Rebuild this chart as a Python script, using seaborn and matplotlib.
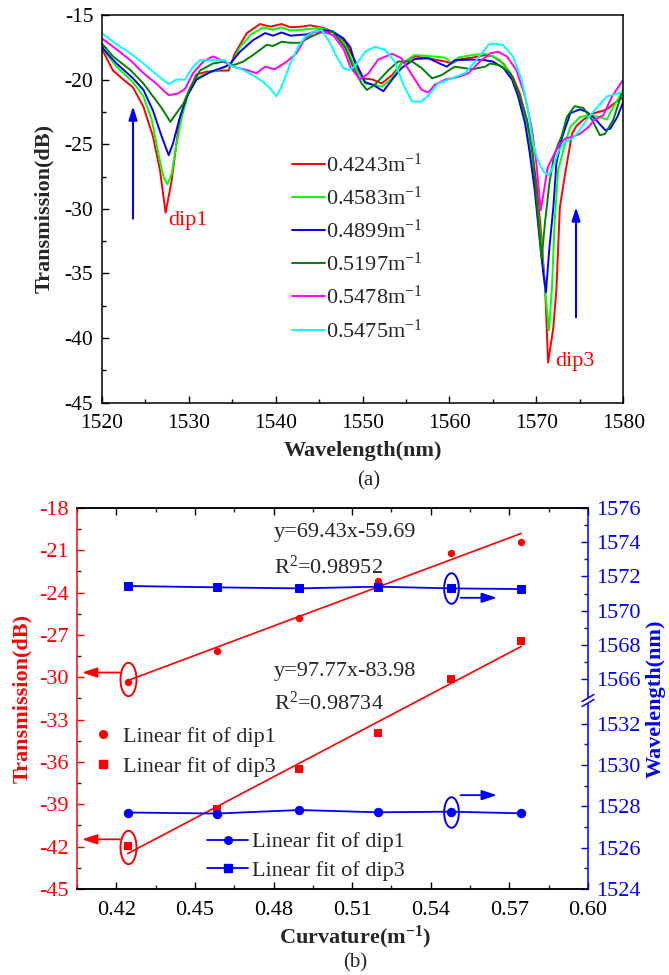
import numpy as np
import pandas as pd
import matplotlib
matplotlib.use("Agg")
import matplotlib.pyplot as plt
import seaborn as sns
from matplotlib.lines import Line2D
from matplotlib.path import Path
from matplotlib.patches import Rectangle
from matplotlib.ticker import MultipleLocator, FixedLocator, FormatStrFormatter

# ---------------- data: transmission spectra (wavelength nm, transmission dB) ----------------
curv_labels = ["0.4243m$^{-1}$", "0.4583m$^{-1}$", "0.4899m$^{-1}$",
               "0.5197m$^{-1}$", "0.5478m$^{-1}$", "0.5475m$^{-1}$"]
curve_colors = ["#FF0000", "#00FF00", "#0000FF", "#008000", "#FF00FF", "#00FFFF"]

spec_04243 = [(1520.0, -17.6), (1521.3, -19.3), (1522.5, -20.0), (1523.6, -20.6), (1524.8, -22.1),
              (1525.9, -24.4), (1526.7, -27.0), (1527.35, -30.3), (1528.05, -27.8), (1528.8, -23.9),
              (1529.8, -21.3), (1530.9, -19.6), (1532.0, -19.4), (1533.6, -19.3), (1534.6, -19.3),
              (1535.3, -18.0), (1536.7, -16.4), (1538.2, -15.7), (1539.4, -15.9), (1540.7, -15.7),
              (1541.7, -15.95), (1543.0, -15.9), (1544.0, -15.8), (1545.5, -16.0), (1546.6, -16.3),
              (1548.0, -17.1), (1549.1, -18.5), (1550.1, -19.9), (1551.2, -20.0), (1552.2, -20.3),
              (1553.4, -19.65), (1554.5, -18.75), (1556.0, -18.2), (1557.0, -18.3), (1558.0, -18.4),
              (1558.7, -18.5), (1559.5, -18.6), (1560.3, -18.75), (1561.0, -18.45), (1562.6, -18.3),
              (1564.1, -18.1), (1565.0, -18.2), (1566.2, -18.75), (1567.3, -19.8), (1568.1, -21.1),
              (1568.9, -23.1), (1569.5, -25.5), (1570.0, -28.0), (1570.5, -31.5), (1571.0, -36.0),
              (1571.35, -41.9), (1571.95, -39.2), (1572.3, -36.3), (1572.7, -29.9), (1573.3, -27.3),
              (1574.1, -24.2), (1574.6, -23.6), (1575.4, -23.1), (1576.6, -22.6), (1577.7, -22.4),
              (1578.3, -22.2), (1579.2, -21.7), (1580.0, -21.4)]

spec_04583 = [(1520.0, -17.5), (1521.7, -19.0), (1523.6, -20.2), (1524.8, -21.3), (1525.75, -23.1),
              (1526.5, -25.7), (1527.1, -27.5), (1527.55, -28.1), (1528.05, -27.3), (1528.55, -25.2),
              (1529.2, -22.9), (1529.96, -21.1), (1530.9, -19.9), (1532.1, -19.5), (1533.2, -19.3),
              (1534.2, -19.0), (1534.8, -18.9), (1535.9, -17.5), (1537.1, -16.55), (1538.6, -15.95),
              (1539.7, -16.15), (1540.7, -15.95), (1541.7, -16.2), (1543.6, -16.1), (1545.1, -16.0),
              (1546.6, -16.3), (1548.0, -17.3), (1549.1, -19.0), (1550.3, -20.3), (1551.4, -20.4),
              (1552.2, -20.55), (1553.4, -19.9), (1554.5, -18.75), (1556.0, -18.1), (1558.0, -18.2),
              (1559.5, -18.3), (1560.3, -18.75), (1561.0, -18.3), (1562.6, -18.1), (1564.1, -18.0),
              (1565.0, -18.2), (1565.8, -18.5), (1567.0, -19.5), (1567.7, -20.8), (1568.7, -23.1),
              (1569.3, -25.5), (1570.0, -29.0), (1570.6, -33.0), (1571.1, -37.0), (1571.45, -39.4),
              (1571.8, -36.0), (1572.1, -31.0), (1572.5, -27.0), (1573.3, -24.95), (1573.9, -23.66),
              (1575.0, -22.9), (1576.2, -22.75), (1577.3, -22.9), (1578.1, -23.1), (1578.85, -22.1),
              (1580.0, -20.8)]

spec_04899 = [(1520.0, -17.5), (1521.7, -18.75), (1523.6, -19.9), (1524.8, -20.8), (1525.9, -22.4),
              (1526.9, -24.4), (1527.7, -25.85), (1528.2, -24.95), (1529.0, -22.9), (1529.8, -21.3),
              (1530.9, -20.0), (1532.5, -19.4), (1534.2, -19.0), (1534.8, -18.75), (1535.9, -17.85),
              (1537.4, -16.95), (1538.8, -16.4), (1539.7, -16.6), (1540.7, -16.35), (1541.7, -16.6),
              (1543.6, -16.5), (1545.1, -16.15), (1546.5, -16.25), (1547.8, -16.8), (1548.6, -17.5),
              (1549.1, -18.6), (1550.3, -20.2), (1551.2, -20.4), (1552.4, -20.9), (1553.4, -20.0),
              (1554.5, -19.1), (1556.0, -18.4), (1557.6, -18.35), (1558.7, -18.7), (1559.7, -19.0),
              (1560.6, -18.5), (1562.6, -18.45), (1564.1, -18.5), (1565.0, -18.6), (1566.2, -19.1),
              (1567.2, -20.0), (1567.9, -21.3), (1568.7, -23.4), (1569.2, -25.5), (1569.8, -28.5),
              (1570.4, -32.5), (1570.8, -35.0), (1571.1, -36.45), (1571.5, -33.0), (1571.95, -29.9),
              (1572.3, -26.5), (1572.9, -24.6), (1573.9, -22.6), (1575.0, -22.3), (1575.8, -22.5),
              (1576.7, -23.0), (1577.9, -23.9), (1578.5, -23.8), (1579.3, -22.9), (1580.0, -21.7)]

spec_05197 = [(1520.0, -17.2), (1521.3, -18.2), (1523.3, -19.26), (1524.8, -20.3), (1525.9, -21.3),
              (1526.9, -22.2), (1527.9, -23.27), (1528.6, -22.6), (1529.4, -21.85), (1530.2, -20.6),
              (1531.3, -19.3), (1532.8, -18.75), (1534.2, -18.6), (1535.1, -18.9), (1536.3, -18.6),
              (1537.4, -18.1), (1539.0, -17.3), (1539.7, -17.4), (1540.7, -17.07), (1541.7, -17.15),
              (1542.8, -17.15), (1544.0, -16.7), (1545.1, -16.37), (1546.6, -16.3), (1548.0, -17.5),
              (1548.9, -19.0), (1549.9, -20.3), (1550.5, -20.8), (1551.4, -20.4), (1553.0, -19.26),
              (1554.1, -18.6), (1555.7, -18.6), (1556.8, -19.1), (1558.0, -19.9), (1559.1, -19.65),
              (1560.6, -19.0), (1562.6, -19.2), (1564.1, -19.0), (1564.7, -18.75), (1565.8, -18.9),
              (1567.0, -19.5), (1567.9, -20.95), (1568.9, -23.1), (1569.5, -25.2), (1570.0, -29.0),
              (1570.6, -33.86), (1571.0, -31.0), (1571.5, -28.0), (1572.0, -26.0), (1572.5, -25.0),
              (1572.9, -24.4), (1573.5, -22.9), (1574.4, -22.05), (1575.4, -22.2), (1576.4, -23.1),
              (1577.3, -24.3), (1577.9, -24.2), (1578.85, -23.1), (1580.0, -20.7)]

spec_05478 = [(1520.0, -16.8), (1521.3, -17.45), (1523.3, -18.5), (1524.8, -19.5), (1526.1, -20.2),
              (1527.7, -21.2), (1528.8, -21.07), (1529.6, -20.7), (1530.5, -19.5), (1531.7, -18.6),
              (1532.8, -18.2), (1533.6, -18.45), (1535.1, -19.0), (1536.7, -19.26), (1537.8, -19.5),
              (1538.8, -19.0), (1539.9, -19.2), (1541.3, -18.6), (1542.4, -17.97), (1543.4, -16.8),
              (1544.5, -16.3), (1545.5, -16.3), (1546.6, -16.55), (1547.8, -17.6), (1548.6, -19.0),
              (1549.7, -20.0), (1550.7, -19.5), (1551.8, -18.45), (1553.4, -18.0), (1554.5, -18.36),
              (1555.7, -19.65), (1556.8, -20.8), (1557.6, -21.0), (1558.3, -20.4), (1559.5, -20.0),
              (1561.0, -19.8), (1562.2, -19.5), (1563.5, -18.6), (1564.7, -17.97), (1565.6, -17.84),
              (1566.6, -18.2), (1567.7, -19.26), (1568.7, -21.3), (1569.5, -23.9), (1570.0, -26.5),
              (1570.5, -30.1), (1570.9, -28.5), (1571.3, -26.8), (1572.1, -25.7), (1572.5, -25.2),
              (1573.3, -24.56), (1574.25, -24.4), (1575.0, -24.2), (1576.0, -23.66), (1576.7, -23.1),
              (1577.7, -22.75), (1578.7, -21.3), (1580.0, -20.0)]

spec_05475 = [(1520.0, -16.4), (1521.3, -17.07), (1523.3, -17.97), (1524.8, -18.75), (1526.1, -19.5),
              (1527.7, -20.35), (1528.6, -20.0), (1529.6, -20.0), (1530.5, -19.0), (1531.3, -18.5),
              (1532.8, -18.5), (1534.2, -18.5), (1534.8, -18.9), (1536.3, -19.26), (1537.4, -19.65),
              (1538.6, -20.2), (1539.4, -20.7), (1540.1, -21.3), (1540.7, -20.55), (1541.7, -18.75),
              (1542.6, -17.46), (1543.4, -16.7), (1544.3, -16.3), (1545.3, -16.16), (1546.3, -17.2),
              (1547.0, -18.2), (1547.8, -19.1), (1548.4, -19.26), (1549.1, -19.0), (1550.3, -17.84),
              (1551.4, -17.46), (1552.6, -17.7), (1553.7, -18.6), (1554.7, -20.4), (1555.7, -21.7),
              (1556.8, -21.7), (1557.6, -21.2), (1558.7, -20.3), (1560.3, -19.9), (1561.8, -19.5),
              (1563.1, -18.5), (1564.5, -17.3), (1565.0, -17.2), (1566.2, -17.33), (1567.3, -18.2),
              (1568.3, -20.0), (1569.1, -22.6), (1569.6, -24.95), (1570.2, -26.3), (1570.8, -27.1),
              (1571.4, -27.4), (1571.9, -26.8), (1572.5, -25.6), (1573.1, -24.95), (1574.25, -24.5),
              (1575.0, -23.9), (1575.8, -23.1), (1576.9, -22.2), (1578.1, -21.3), (1579.2, -21.1),
              (1580.0, -20.9)]

spectra = [spec_04243, spec_04583, spec_04899, spec_05197, spec_05478, spec_05475]

# ---------------- data: dip tracking versus curvature ----------------
curvature = [0.4243, 0.4583, 0.4899, 0.5197, 0.5478, 0.5745]
dip1_trans = [-30.31, -28.11, -25.80, -23.17, -21.21, -20.41]
dip3_trans = [-41.93, -39.36, -36.50, -33.92, -30.14, -27.43]
dip1_wavelength = [1527.70, 1527.65, 1527.82, 1527.71, 1527.74, 1527.66]
dip3_wavelength = [1571.44, 1571.36, 1571.30, 1571.40, 1571.30, 1571.26]
fit_dip1 = (69.43, -59.69, 0.98952)
fit_dip3 = (97.77, -83.98, 0.98734)

# ---------------- style ----------------
sns.set_style("ticks")
plt.rcParams.update({
    "font.family": ["Liberation Serif", "DejaVu Serif"],
    "mathtext.fontset": "custom",
    "mathtext.rm": "Liberation Serif",
    "mathtext.it": "Liberation Serif:italic",
    "mathtext.bf": "Liberation Serif:bold",
    "axes.unicode_minus": False,
    "xtick.direction": "in",
    "ytick.direction": "in",
    "axes.linewidth": 1.1,
})

fig = plt.figure(figsize=(6.69, 9.75), dpi=100)

# ================= (a) spectra =================
ax_a = fig.add_axes([0.15202, 0.58697, 0.77967, 0.39765])
rows = []
for lab, pts in zip(curv_labels, spectra):
    for w, t in pts:
        rows.append((w, t, lab))
df_spec = pd.DataFrame(rows, columns=["wavelength", "transmission", "curvature"])
sns.lineplot(data=df_spec, x="wavelength", y="transmission", hue="curvature",
             hue_order=curv_labels, palette=curve_colors, sort=False, estimator=None,
             linewidth=1.4, legend=False, ax=ax_a)

ax_a.set_xlim(1520, 1580)
ax_a.set_ylim(-45, -15)
ax_a.xaxis.set_major_locator(MultipleLocator(10))
ax_a.xaxis.set_minor_locator(MultipleLocator(5))
ax_a.yaxis.set_major_locator(MultipleLocator(5))
ax_a.yaxis.set_minor_locator(MultipleLocator(2.5))
ax_a.tick_params(which="both", direction="in", labelsize=15.5, width=1.0, colors="black")
ax_a.tick_params(which="major", length=5)
ax_a.tick_params(which="minor", length=3)
ax_a.tick_params(axis="x", pad=8)
ax_a.tick_params(axis="y", pad=6)
for sp in ax_a.spines.values():
    sp.set_visible(True)
    sp.set_color("black")

ax_a.set_xlabel("Wavelength(nm)", fontsize=16, fontweight="bold", va="center")
ax_a.xaxis.set_label_coords(0.5, -0.124)
ax_a.set_ylabel("Transmission(dB)", fontsize=16, fontweight="bold", va="center")
ax_a.yaxis.set_label_coords(-0.1106, 0.5)

handles_a = [Line2D([], [], color=c, lw=1.4) for c in curve_colors]
ax_a.legend(handles_a, curv_labels, loc="upper left", bbox_to_anchor=(0.3643, 0.6435),
            frameon=False, fontsize=16, handlelength=1.5, handletextpad=0.05,
            labelspacing=0.45, borderpad=0, borderaxespad=0)

arrow_kw = dict(arrowstyle="-|>,head_length=0.8,head_width=0.25", color="blue",
                lw=1.5, mutation_scale=10, shrinkA=0, shrinkB=0)
ax_a.annotate("", xy=(1523.6, -22.05), xytext=(1523.6, -30.76), arrowprops=arrow_kw)
ax_a.annotate("", xy=(1574.56, -29.86), xytext=(1574.56, -38.39), arrowprops=arrow_kw)
ax_a.text(1527.65, -30.9, "dip1", color="red", fontsize=16, ha="left", va="center")
ax_a.text(1572.15, -41.85, "dip3", color="red", fontsize=16, ha="left", va="center")

fig.text(368.5 / 669, 1 - 481 / 975, "(a)", fontsize=15, ha="center", va="center")

# ================= (b) dip tracking =================
ax_b = fig.add_axes([0.1151, 0.08821, 0.76382, 0.39077])
ax_w = ax_b.twinx()

sns.scatterplot(x=curvature, y=dip1_trans, marker="o", color="red", s=28, linewidth=0, ax=ax_b)
sns.scatterplot(x=curvature, y=dip3_trans, marker="s", color="red", s=28, linewidth=0, ax=ax_b)
x_fit = np.array([curvature[0], curvature[-1]])
for slope, icpt, _ in (fit_dip1, fit_dip3):
    sns.lineplot(x=x_fit, y=slope * x_fit + icpt, color="red", linewidth=1.2, ax=ax_b)

sns.lineplot(x=curvature, y=dip3_wavelength, color="blue", marker="s", markersize=6,
             markeredgecolor="blue", linewidth=1.3, ax=ax_w)
sns.lineplot(x=curvature, y=dip1_wavelength, color="blue", marker="o", markersize=6,
             markeredgecolor="blue", linewidth=1.3, ax=ax_w)

# broken right axis: 1524-1532.9 nm (lower part) and 1565-1576 nm (upper part)
_wl_pts = np.array([1400.0, 1524.0, 1532.9, 1564.95, 1576.0, 1700.0])
_px_pts = np.array([-124 * 20.67, 0.0, 184.0, 192.0, 381.0, 381.0 + 124 * 17.1])


def _wl_fwd(v):
    return np.interp(v, _wl_pts, _px_pts)


def _wl_inv(v):
    return np.interp(v, _px_pts, _wl_pts)


ax_w.set_yscale("function", functions=(_wl_fwd, _wl_inv))
ax_w.set_ylim(1524, 1576)
ax_w.yaxis.set_major_locator(FixedLocator([1524, 1526, 1528, 1530, 1532,
                                           1566, 1568, 1570, 1572, 1574, 1576]))
ax_w.yaxis.set_minor_locator(FixedLocator([1525, 1527, 1529, 1531,
                                           1567, 1569, 1571, 1573, 1575]))
ax_w.yaxis.set_major_formatter(FormatStrFormatter("%d"))
ax_w.yaxis.set_minor_formatter(FormatStrFormatter(""))

ax_b.set_xlim(0.405, 0.60)
ax_b.set_ylim(-45, -18)
ax_b.xaxis.set_major_locator(MultipleLocator(0.03))
ax_b.xaxis.set_minor_locator(MultipleLocator(0.015))
ax_b.xaxis.set_major_formatter(FormatStrFormatter("%.2f"))
ax_b.yaxis.set_major_locator(MultipleLocator(3))
ax_b.yaxis.set_minor_locator(MultipleLocator(1.5))
ax_b.yaxis.set_major_formatter(FormatStrFormatter("%d"))

ax_b.tick_params(which="both", direction="in", top=True, bottom=True, right=False,
                 labelsize=16, width=1.0)
ax_b.tick_params(which="major", length=5)
ax_b.tick_params(which="minor", length=3)
ax_b.tick_params(axis="x", pad=9, colors="black")
ax_b.tick_params(axis="y", pad=6, colors="red")
ax_w.tick_params(which="both", direction="in", labelsize=16, width=1.0, colors="blue", pad=6)
ax_w.tick_params(which="major", length=5)
ax_w.tick_params(which="minor", length=3)

ax_b.spines["left"].set_color("red")
ax_b.spines["right"].set_visible(False)
ax_w.spines["left"].set_visible(False)
ax_w.spines["right"].set_color("blue")
for sp in ("top", "bottom"):
    ax_b.spines[sp].set_color("black")
    ax_w.spines[sp].set_color("black")

ax_b.set_xlabel(r"Curvature(m$^{\mathbf{-1}}$)", fontsize=16, fontweight="bold", va="center")
ax_b.xaxis.set_label_coords(0.544, -0.128)
ax_b.set_ylabel("Transmission(dB)", fontsize=16, fontweight="bold", color="red", va="center")
ax_b.yaxis.set_label_coords(-0.1076, 0.5)
ax_w.set_ylabel("Wavelength(nm)", fontsize=16, fontweight="bold", color="blue",
                va="center", rotation=90)
ax_w.yaxis.set_label_coords(1.133, 0.5)

# axis-break marks on the right spine
yb0, yb1 = (889 - 703) / 381, (889 - 698) / 381
ax_w.add_patch(Rectangle((0.994, yb0), 0.012, yb1 - yb0, transform=ax_w.transAxes,
                         facecolor="white", edgecolor="none", clip_on=False, zorder=10))
for yb in (yb0, yb1):
    ax_w.plot([1 - 0.0117, 1 + 0.0117], [yb - 0.0092, yb + 0.0092], transform=ax_w.transAxes,
              color="blue", lw=1.1, clip_on=False, zorder=11)

# fit equations
ax_b.text(0.48, -19.77, "y=%.2fx%.2f" % (fit_dip1[0], fit_dip1[1]), fontsize=16, ha="left", va="center")
ax_b.text(0.48, -22.18, "R$^2$=%.5f" % fit_dip1[2], fontsize=16, ha="left", va="center")
ax_b.text(0.48, -29.6, "y=%.2fx%.2f" % (fit_dip3[0], fit_dip3[1]), fontsize=16, ha="left", va="center")
ax_b.text(0.48, -31.82, "R$^2$=%.5f" % fit_dip3[2], fontsize=16, ha="left", va="center")

# ellipses marking which axis each group belongs to
_t = np.linspace(0, 2 * np.pi, 80)
ellipse_marker = Path(np.column_stack([0.48 * np.cos(_t), np.sin(_t)]))
ax_b.plot([curvature[0]], [dip1_trans[0] + 0.2], marker=ellipse_marker, ms=24, mfc="none",
          mec="red", mew=1.4, ls="none")
ax_b.plot([curvature[0]], [dip3_trans[0] - 0.1], marker=ellipse_marker, ms=24, mfc="none",
          mec="red", mew=1.4, ls="none")
ax_w.plot([curvature[4]], [dip3_wavelength[4]], marker=ellipse_marker, ms=22, mfc="none",
          mec="blue", mew=1.4, ls="none")
ax_w.plot([curvature[4]], [dip1_wavelength[4]], marker=ellipse_marker, ms=22, mfc="none",
          mec="blue", mew=1.4, ls="none")

red_arrow = dict(arrowstyle="-|>,head_length=0.9,head_width=0.3", color="red",
                 lw=1.3, mutation_scale=10, shrinkA=0, shrinkB=0)
blue_arrow = dict(red_arrow, color="blue")
for yv in (dip1_trans[0] + 0.65, dip3_trans[0] + 0.45):
    ax_b.annotate("", xy=(0.010, yv), xycoords=("axes fraction", "data"),
                  xytext=(0.084, yv), textcoords=("axes fraction", "data"), arrowprops=red_arrow)
for yv in (dip3_wavelength[4] - 0.55, dip1_wavelength[4] + 0.8):
    ax_w.annotate("", xy=(0.5652, yv), xytext=(0.5514, yv), arrowprops=blue_arrow)

# legends
red_handles = [Line2D([], [], ls="none", marker="o", color="red", ms=5.5),
               Line2D([], [], ls="none", marker="s", color="red", ms=5.5)]
leg_red = ax_w.legend(red_handles, ["Linear fit of dip1", "Linear fit of dip3"],
                      loc="upper left", bbox_to_anchor=(0.0288, 0.426), frameon=False,
                      fontsize=16, handlelength=1.0, handletextpad=0.42, labelspacing=0.42,
                      borderpad=0, borderaxespad=0)
ax_w.add_artist(leg_red)
blue_handles = [Line2D([], [], color="blue", marker="o", ms=5.5, lw=1.3),
                Line2D([], [], color="blue", marker="s", ms=5.5, lw=1.3)]
ax_w.legend(blue_handles, ["Linear fit of dip1", "Linear fit of dip3"],
            loc="upper left", bbox_to_anchor=(0.2544, 0.150), frameon=False,
            fontsize=16, handlelength=1.85, handletextpad=0.17, labelspacing=0.34,
            borderpad=0, borderaxespad=0)

fig.text(355 / 669, 1 - 963 / 975, "(b)", fontsize=15, ha="center", va="center")

fig.savefig("out.png", dpi=100)
